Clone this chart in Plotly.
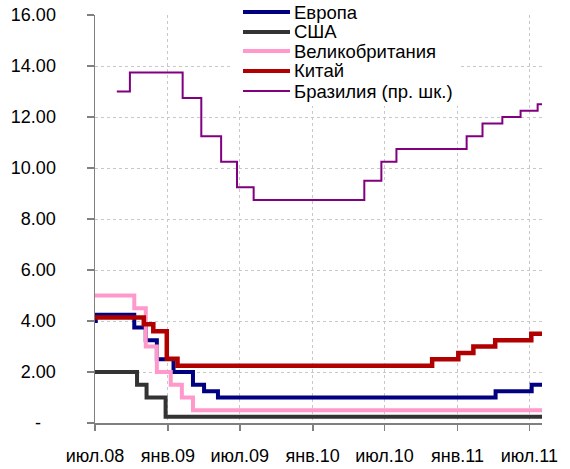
import datetime as dt
import plotly.graph_objects as go

# ---- data ----
series_names = ["Европа", "США", "Великобритания", "Китай", "Бразилия (пр. шк.)"]

europe_dates = ["2008-07-01", "2008-07-03", "2008-10-08", "2008-11-06", "2008-12-04", "2009-01-15",
                "2009-03-05", "2009-04-02", "2009-05-07", "2011-04-07", "2011-07-07", "2011-08-02"]
europe = [4.00, 4.25, 3.75, 3.25, 2.50, 2.00, 1.50, 1.25, 1.00, 1.25, 1.50, 1.50]

usa_dates = ["2008-07-01", "2008-10-15", "2008-11-08", "2008-12-26", "2011-08-02"]
usa = [2.00, 1.50, 1.00, 0.25, 0.25]

uk_dates = ["2008-07-01", "2008-10-08", "2008-11-06", "2008-12-04", "2009-01-08", "2009-02-05",
            "2009-03-05", "2011-08-02"]
uk = [5.00, 4.50, 3.00, 2.00, 1.50, 1.00, 0.50, 0.50]

china_dates = ["2008-07-01", "2008-11-01", "2008-11-25", "2008-12-29", "2009-01-25", "2010-10-29",
               "2011-01-03", "2011-02-10", "2011-04-06", "2011-07-06", "2011-08-02"]
china = [4.14, 3.87, 3.60, 2.52, 2.25, 2.50, 2.75, 3.00, 3.25, 3.50, 3.50]

brazil_dates = ["2008-08-25", "2008-09-27", "2009-02-07", "2009-03-26", "2009-05-15", "2009-06-24",
                "2009-08-05", "2010-05-11", "2010-06-23", "2010-07-31", "2011-01-24", "2011-03-05",
                "2011-04-24", "2011-06-09", "2011-07-22", "2011-08-02"]
brazil = [13.00, 13.75, 12.75, 11.25, 10.25, 9.25, 8.75, 9.50, 10.25, 10.75, 11.25, 11.75,
          12.00, 12.25, 12.50, 12.50]

x_tick_vals = ["2008-07-01", "2009-01-01", "2009-07-01", "2010-01-01", "2010-07-01",
               "2011-01-01", "2011-07-01"]
x_tick_text = ["июл.08", "янв.09", "июл.09", "янв.10", "июл.10", "янв.11", "июл.11"]
y_tick_vals = [0, 2, 4, 6, 8, 10, 12, 14, 16]
y_tick_text = ["-\u00a0\u00a0\u00a0", "2.00", "4.00", "6.00", "8.00", "10.00", "12.00", "14.00", "16.00"]

x_range = ["2008-07-01", "2011-08-02"]
y_range = [0, 16]

# ---- styles ----
colors = ["#000080", "#333333", "#FF99CC", "#B00000", "#800080"]
widths = [4, 4, 4, 4.5, 2]

FONT = "Liberation Sans, Arial, sans-serif"

fig = go.Figure()
all_x = [europe_dates, usa_dates, uk_dates, china_dates, brazil_dates]
all_y = [europe, usa, uk, china, brazil]
for name, xs, ys, c, w in zip(series_names, all_x, all_y, colors, widths):
    fig.add_trace(go.Scatter(x=xs, y=ys, name=name, mode="lines",
                             line=dict(color=c, width=w, shape="hv"),
                             showlegend=False))

FIG_W, FIG_H = 570, 469
# plot area in window pixels: x 95..542, y 15..423
L, R, T, B = 95, 542, 15, 423
W, H = R - L, B - T

def px_x(p):
    return (p - L) / W

def px_y(p):
    return (B - p) / H

x0d = dt.datetime.fromisoformat(x_range[0])
x1d = dt.datetime.fromisoformat(x_range[1])

def px_date(p):
    return (x0d + (x1d - x0d) * px_x(p)).strftime("%Y-%m-%d %H:%M")

def px_val(p):
    return y_range[0] + (y_range[1] - y_range[0]) * px_y(p)

shapes = []
annotations = []
# legend background (covers grid, stays under traces)
shapes.append(dict(type="rect", xref="x", yref="y",
                   x0=px_date(232), x1=px_date(458), y0=px_val(106), y1=px_val(-5),
                   fillcolor="white", line=dict(width=0), layer="between"))
leg_y = [12, 32, 51, 71, 91]
for name, c, w, yy in zip(series_names, colors, widths, leg_y):
    shapes.append(dict(type="line", xref="paper", yref="paper",
                       x0=px_x(243), x1=px_x(290), y0=px_y(yy), y1=px_y(yy),
                       line=dict(color=c, width=min(w, 4)), layer="above"))
    annotations.append(dict(xref="paper", yref="paper", x=px_x(292), y=px_y(yy),
                            xanchor="left", yanchor="middle", text=name, showarrow=False,
                            font=dict(family=FONT, size=18.5, color="#000000")))

fig.update_layout(
    width=FIG_W, height=FIG_H,
    margin=dict(l=L, r=FIG_W - R, t=T, b=FIG_H - B, pad=0, autoexpand=False),
    paper_bgcolor="white", plot_bgcolor="white",
    shapes=shapes, annotations=annotations,
    showlegend=False, hovermode=False,
    font=dict(family=FONT, color="#000000"),
)
fig.update_xaxes(
    type="date", range=x_range, automargin=False,
    tickvals=x_tick_vals, ticktext=x_tick_text,
    showgrid=True, gridcolor="#C8C8C8", gridwidth=1, griddash="3px,3px",
    showline=True, linecolor="#808080", linewidth=1.5,
    ticks="outside", ticklen=6, tickcolor="#808080", tickwidth=1.5,
    tickfont=dict(family=FONT, size=18, color="#000000"),
    ticklabelstandoff=10, zeroline=False, ticklabeloverflow="allow",
)
fig.update_yaxes(
    range=y_range, automargin=False,
    tickvals=y_tick_vals, ticktext=y_tick_text,
    showgrid=True, gridcolor="#C8C8C8", gridwidth=1, griddash="3px,3px",
    showline=True, linecolor="#808080", linewidth=1.5,
    ticks="outside", ticklen=7, tickcolor="#808080", tickwidth=1.5,
    tickfont=dict(family=FONT, size=18, color="#000000"),
    ticklabelstandoff=27, zeroline=False, ticklabeloverflow="allow",
)

# the page body has a default 8px margin; remove it so the figure fills the window
fig.write_html("out.html", config={"displayModeBar": False, "staticPlot": True},
               post_script="document.body.style.margin='0px';")
